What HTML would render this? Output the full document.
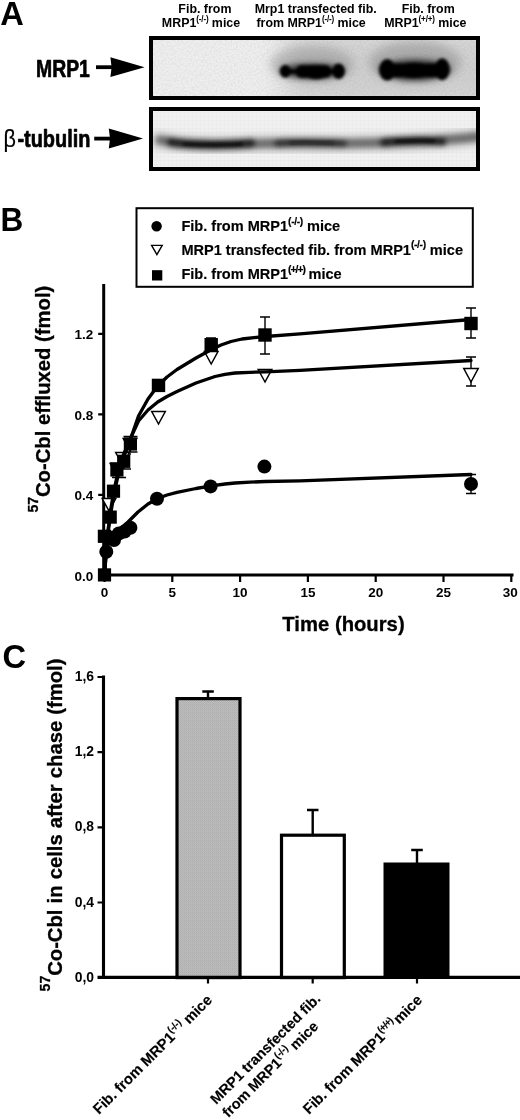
<!DOCTYPE html>
<html>
<head>
<meta charset="utf-8">
<title>Figure</title>
<style>
html,body{margin:0;padding:0;background:#fff;}
body{width:520px;height:1120px;overflow:hidden;}
svg{display:block;will-change:transform;}
svg text{font-family:"Liberation Sans",sans-serif;font-weight:bold;fill:#000;}
.pl{font-size:33px;}
.hd{font-size:13px;text-anchor:middle;}
.sp{font-size:8.5px;letter-spacing:-0.2px;}
.sq{font-size:10.3px;letter-spacing:-0.35px;}
.lg{font-size:14.55px;stroke:#000;stroke-width:0.15px;}
.tk{font-size:13.5px;}
.ax{font-size:20.25px;stroke:#000;stroke-width:0.3px;}
.rl{font-size:24px;stroke:#000;stroke-width:0.7px;stroke-linejoin:round;}
</style>
</head>
<body>
<svg width="520" height="1120" viewBox="0 0 520 1120">
<defs>
  <filter id="b1" x="-30%" y="-80%" width="160%" height="260%"><feGaussianBlur stdDeviation="1.4"/></filter>
  <filter id="b2" x="-30%" y="-150%" width="160%" height="400%"><feGaussianBlur stdDeviation="2.6"/></filter>
  <filter id="b4" x="-30%" y="-150%" width="160%" height="400%"><feGaussianBlur stdDeviation="2.8"/></filter>
  <filter id="nz" x="0" y="0" width="100%" height="100%"><feTurbulence type="fractalNoise" baseFrequency="0.55" numOctaves="2" seed="7" result="t"/><feColorMatrix type="matrix" values="0 0 0 0 0  0 0 0 0 0  0 0 0 0 0  1.6 0 0 0 -0.55"/></filter>
  <filter id="b5" x="-30%" y="-300%" width="160%" height="700%"><feGaussianBlur stdDeviation="1.7"/></filter>
  <filter id="b6" x="-30%" y="-50%" width="160%" height="200%"><feGaussianBlur stdDeviation="14"/></filter>
  <filter id="b3" x="-30%" y="-100%" width="160%" height="300%"><feGaussianBlur stdDeviation="5"/></filter>
  <pattern id="dots" width="2" height="2" patternUnits="userSpaceOnUse">
    <rect width="2" height="2" fill="#bdbdbd"/>
    <rect width="1" height="1" fill="#adadad"/>
    <rect x="1" y="1" width="1" height="1" fill="#b3b3b3"/>
  </pattern>
  <pattern id="grid" width="4" height="4" patternUnits="userSpaceOnUse">
    <rect width="4" height="4" fill="#f1f1f1"/>
    <rect width="4" height="1" fill="#ececec"/>
    <rect width="1" height="4" fill="#ececec"/>
  </pattern>
  <clipPath id="c1"><rect x="151" y="38" width="327" height="60"/></clipPath>
  <clipPath id="c2"><rect x="151" y="109" width="327" height="60"/></clipPath>
</defs>
<rect width="520" height="1120" fill="#fff"/>

<!-- ================= PANEL A ================= -->
<g id="panelA">
  <text class="pl" transform="translate(0.2 24.8) scale(0.99 1)">A</text>
  <text class="hd" transform="translate(204.9 13.1) scale(0.955 1)">Fib. from</text>
  <text class="hd" transform="translate(201 27.2) scale(0.955 1)">MRP1<tspan class="sp" dy="-5">(-/-)</tspan><tspan dy="5"> mice</tspan></text>
  <text class="hd" transform="translate(315.7 13.1) scale(0.955 1)">Mrp1 transfected fib.</text>
  <text class="hd" transform="translate(311.1 27.2) scale(0.955 1)">from MRP1<tspan class="sp" dy="-5">(-/-)</tspan><tspan dy="5"> mice</tspan></text>
  <text class="hd" transform="translate(428.2 13.1) scale(0.955 1)">Fib. from</text>
  <text class="hd" transform="translate(425.3 27.2) scale(0.955 1)">MRP1<tspan class="sp" dy="-5">(+/+)</tspan><tspan dy="5"> mice</tspan></text>

  <!-- blot 1 -->
  <rect x="151" y="38" width="327" height="60" fill="#efefef"/>
  <rect x="151" y="38" width="327" height="60" filter="url(#nz)" opacity="0.08"/>
  <g clip-path="url(#c1)">
    <g filter="url(#b6)" opacity="0.3">
      <rect x="285" y="30" width="230" height="80" fill="#8a8a8a"/>
    </g>
    <g filter="url(#b3)" opacity="0.42">
      <ellipse cx="312" cy="64" rx="42" ry="18" fill="#888"/>
      <ellipse cx="415" cy="62" rx="46" ry="21" fill="#808080"/>
      <ellipse cx="312" cy="69" rx="38" ry="10" fill="#666"/>
      <ellipse cx="415" cy="68" rx="42" ry="13" fill="#606060"/>
    </g>
    <g filter="url(#b2)" opacity="0.8">
      <ellipse cx="312" cy="71" rx="33" ry="8" fill="#333"/>
      <ellipse cx="415" cy="70" rx="36" ry="11" fill="#333"/>
    </g>
    <g filter="url(#b1)">
      <ellipse cx="285.3" cy="71.3" rx="5.3" ry="6.3" fill="#000"/>
      <rect x="286" y="69.2" width="53" height="4.6" fill="#000"/>
      <rect x="295.5" y="65.2" width="36" height="12.6" rx="6" fill="#000"/>
      <ellipse cx="316" cy="72.2" rx="12" ry="7" fill="#000"/>
      <ellipse cx="338.6" cy="71.2" rx="6.3" ry="7.7" fill="#000"/>
      <ellipse cx="387.2" cy="69.8" rx="8" ry="10.8" fill="#000"/>
      <rect x="390" y="63.6" width="50" height="13.6" rx="5" fill="#000"/>
      <ellipse cx="414" cy="70.4" rx="19" ry="7.8" fill="#000"/>
      <ellipse cx="442.2" cy="69.2" rx="7.4" ry="11" fill="#000"/>
    </g>
  </g>
  <rect x="151" y="38" width="327" height="60" fill="none" stroke="#000" stroke-width="4"/>

  <!-- blot 2 -->
  <rect x="151" y="109" width="327" height="60" fill="url(#grid)"/>
  <g clip-path="url(#c2)">
    <g filter="url(#b3)" opacity="0.6">
      <path d="M158 140 C175 143.5 190 145 215 145 C245 145 250 143.5 262 143.5 C290 143.5 330 144 352 143.5 C372 143 380 143 395 142.5 C420 141.5 445 141 480 136.5" stroke="#555" stroke-width="11" fill="none" stroke-linecap="round"/>
    </g>
    <g filter="url(#b4)">
      <path d="M160 140 C175 143 190 144.6 215 144.6 C245 144.6 250 143.5 262 143.5 C290 142.5 330 143 352 143.3 C372 143 380 142.5 395 142 C420 140.5 445 141 480 136.5" stroke="#6a6a6a" stroke-width="7" fill="none" stroke-linecap="round"/>
      <path d="M170 142 C185 144.4 200 144.7 215 144.7 C232 144.7 240 144.3 252 143.3" stroke="#1c1c1c" stroke-width="8" fill="none" stroke-linecap="round"/>
      <path d="M277 143.2 C292 142.3 320 142.6 344 143.4" stroke="#2a2a2a" stroke-width="7" fill="none" stroke-linecap="round"/>
      <path d="M383 142.4 C400 140.8 425 140.6 443 141.2" stroke="#1c1c1c" stroke-width="8" fill="none" stroke-linecap="round"/>
    </g>
    <g filter="url(#b5)" opacity="0.8">
      <path d="M184 144 C194 144.8 203 144.9 215 144.9 C228 144.9 236 144.5 242 144" stroke="#000" stroke-width="2.6" fill="none" stroke-linecap="round"/>
      <path d="M290 142.8 C300 142.5 322 142.7 334 143.1" stroke="#111" stroke-width="1.8" fill="none" stroke-linecap="round"/>
      <path d="M396 141.5 C407 140.8 425 140.6 434 141" stroke="#000" stroke-width="2.6" fill="none" stroke-linecap="round"/>
    </g>
  </g>
  <rect x="151" y="109" width="327" height="60" fill="none" stroke="#000" stroke-width="4"/>

  <!-- row labels -->
  <text class="rl" transform="translate(36 77.4) scale(0.808 1)">MRP1</text>
  <path d="M96 65.3 h17 v3.8 h-17 z" fill="#000"/>
  <path d="M110.4 57.3 L144.6 67.2 L110.4 77.1 L111.6 67.2 Z" fill="#000"/>

  <text class="rl" style="font-weight:normal;stroke-width:0.2px" transform="translate(3.6 146.6) scale(0.9 0.98)">β</text>
  <text class="rl" transform="translate(17.4 146.6) scale(0.83 0.975)">-tubulin</text>
  <path d="M94.2 136.7 h17 v3.8 h-17 z" fill="#000"/>
  <path d="M108.8 128.6 L143 138.6 L108.8 148.6 L110 138.6 Z" fill="#000"/>
</g>

<!-- ================= PANEL B ================= -->
<g id="panelB">
  <text class="pl" transform="translate(0.4 231.2) scale(0.955 1)">B</text>
  <!-- legend -->
  <rect x="136.5" y="208.2" width="336.3" height="78.6" fill="#fff" stroke="#000" stroke-width="2"/>
  <circle cx="156.6" cy="226.2" r="5.2" fill="#000"/>
  <path d="M151.6 245.4 L162.2 245.4 L156.9 254.6 Z" fill="#fff" stroke="#000" stroke-width="1.4"/>
  <rect x="152" y="270.2" width="10.3" height="10.3" fill="#000"/>
  <text class="lg" x="181.4" y="231">Fib. from MRP1<tspan class="sq" dy="-6.3">(-/-)</tspan><tspan dy="6.3"> mice</tspan></text>
  <text class="lg" x="181.4" y="254.6">MRP1 transfected fib. from MRP1<tspan class="sq" dy="-6.3">(-/-)</tspan><tspan dy="6.3"> mice</tspan></text>
  <text class="lg" x="181.4" y="279.4">Fib. from MRP1<tspan class="sq" style="letter-spacing:-0.95px" dy="-6.3">(+/+)</tspan><tspan dy="6.3" dx="-0.6"> mice</tspan></text>

  <!-- axes -->
  <path d="M103.7 284 V576.5" stroke="#000" stroke-width="3" fill="none"/>
  <path d="M98 575 H513.5" stroke="#000" stroke-width="2.8" fill="none"/>
  <g stroke="#000" stroke-width="2.2" fill="none">
    <path d="M98.2 333.9 H103 M98.2 414.4 H103 M98.2 494.9 H103"/>
    <path d="M104.5 575 V582 M172.3 575 V582 M240.1 575 V582 M307.9 575 V582 M375.7 575 V582 M443.5 575 V582 M511.3 575 V582"/>
  </g>
  <g class="tk" text-anchor="end">
    <text x="93.4" y="339">1.2</text>
    <text x="93.4" y="419.5">0.8</text>
    <text x="93.4" y="500">0.4</text>
    <text x="93.4" y="581">0.0</text>
  </g>
  <g class="tk" text-anchor="middle">
    <text x="104.5" y="597.2">0</text>
    <text x="172.3" y="597.2">5</text>
    <text x="240.1" y="597.2">10</text>
    <text x="307.9" y="597.2">15</text>
    <text x="375.7" y="597.2">20</text>
    <text x="443.5" y="597.2">25</text>
    <text x="510.2" y="597.2">30</text>
  </g>
  <text class="ax" x="343.5" y="631" text-anchor="middle">Time (hours)</text>
  <text class="ax" transform="translate(49.6 512.6) rotate(-90) scale(1 1.04)"><tspan font-size="14" dy="-11.6">57</tspan><tspan dy="11.6">Co-Cbl effluxed (fmol)</tspan></text>

  <!-- error bars -->
  <g stroke="#000" stroke-width="1.4" fill="none">
    <path d="M265 317 V354 M260 317 H270 M260 354 H270"/>
    <path d="M471 308 V338 M466 308 H476 M466 338 H476"/>
    <path d="M471 357 V386 M466 357 H476 M466 386 H476"/>
    <path d="M471 474.5 V493.5 M466 474.5 H476 M466 493.5 H476"/>
    <path d="M211 338 V351 M206 338 H216"/>
    <path d="M130.4 436.5 V452 M123.5 436.5 H137.5 M123.5 452 H137.5"/>
    <path d="M124 454 V469 M117 454 H131 M117 469 H131"/>
    <path d="M117 463 V477.5 M110 463 H124 M112 477.5 H126"/>
  </g>

  <!-- triangles -->
  <g fill="#fff" stroke="#000" stroke-width="1.5" stroke-linejoin="miter">
    <path d="M109 511 l-6.8 -12.5 h13.6 z"/>
    <path d="M117 476 l-6.8 -12.5 h13.6 z"/>
    <path d="M122.5 465 l-6.8 -12.5 h13.6 z"/>
    <path d="M130 451 l-6.8 -12.5 h13.6 z"/>
    <path d="M158.5 424 l-6.8 -12.5 h13.6 z"/>
    <path d="M211.2 364 l-6.8 -12.5 h13.6 z"/>
    <path d="M265 382 l-6.8 -12.5 h13.6 z"/>
    <path d="M471 382 l-7.2 -13.5 h14.4 z"/>
  </g>

  <!-- curves -->
  <g stroke="#000" stroke-width="3.3" fill="none" stroke-linecap="round" stroke-linejoin="round">
    <path id="cvS" d="M104.6 575 L106 555 L108 533 L111 512 L114 494 L118 476 L123 459 L128.8 444 L138.5 416 L148 399 L157.7 386 L167 377 L177 369.5 L196 358 L211.5 349.5 L221 345 L231 341.5 L242 339 L254 337.7 L265.4 336.5 L300 333.8 L471 319.5"/>
    <path id="cvT" d="M104.6 575 L106 553 L108 530 L111 508 L114 490 L118 472 L123 456 L128.8 442 L138.5 421 L148 410 L157.7 402 L167 396.5 L177 391.5 L196 383 L215 376.5 L225 374.3 L235 373 L250 372.3 L265.4 371.8 L300 370.4 L471 360.5"/>
    <path id="cvC" d="M104.6 575 L105.5 560 L107 548 L109 540 L112 535 L116 531.5 L121 528 L128 522 L138 512 L148 504 L157.7 498.5 L167 495 L177 492.3 L196 488.5 L211.5 485.8 L225 484 L235 483 L250 482.2 L265.4 481.5 L300 480.8 L471 474.5"/>
  </g>

  <!-- circles -->
  <g fill="#000">
    <circle cx="104.6" cy="575" r="6"/>
    <circle cx="106.3" cy="551.7" r="7"/>
    <circle cx="109.2" cy="537.3" r="7"/>
    <circle cx="114" cy="540" r="7"/>
    <circle cx="118.8" cy="533.5" r="7"/>
    <circle cx="124.6" cy="531.5" r="7"/>
    <circle cx="130.4" cy="527.7" r="7"/>
    <circle cx="157" cy="498.8" r="7"/>
    <circle cx="210.6" cy="486.4" r="7"/>
    <circle cx="264.4" cy="466.6" r="7"/>
    <circle cx="471" cy="484" r="7"/>
  </g>

  <!-- squares -->
  <g fill="#000">
    <rect x="97.9" y="568.3" width="13.2" height="13.2"/>
    <rect x="97.8" y="529.7" width="13.2" height="13.2"/>
    <rect x="103.6" y="510.5" width="13.2" height="13.2"/>
    <rect x="106.9" y="484.6" width="13.2" height="13.2"/>
    <rect x="110.3" y="463.4" width="13.2" height="13.2"/>
    <rect x="117.1" y="454.7" width="13.2" height="13.2"/>
    <rect x="123.8" y="437.4" width="13.2" height="13.2"/>
    <rect x="151.8" y="378.7" width="13.4" height="13.4"/>
    <rect x="204.5" y="338" width="13.4" height="13.4"/>
    <rect x="258.3" y="328.3" width="13.4" height="13.4"/>
    <rect x="464.3" y="316.8" width="13.4" height="13.4"/>
  </g>
</g>

<!-- ================= PANEL C ================= -->
<g id="panelC">
  <text class="pl" transform="translate(2.6 668.2) scale(0.99 1.01)">C</text>
  <!-- bars -->
  <rect x="177" y="698.6" width="63" height="279" fill="url(#dots)" stroke="#000" stroke-width="3.2"/>
  <rect x="281.5" y="835.2" width="62.8" height="142.4" fill="#fff" stroke="#000" stroke-width="3.2"/>
  <rect x="383.5" y="862.5" width="66" height="115" fill="#000"/>
  <g stroke="#000" stroke-width="2.4" fill="none">
    <path d="M208 698 V691 M202.3 691.5 H213.8"/>
    <path d="M312.7 835 V809.5 M307 810 H318.5"/>
    <path d="M417 863 V849.5 M411.2 850 H422.8"/>
  </g>
  <!-- axes -->
  <path d="M103.5 675.6 V979" stroke="#000" stroke-width="3.1" fill="none"/>
  <path d="M97.5 977.3 H520" stroke="#000" stroke-width="3.2" fill="none"/>
  <g stroke="#000" stroke-width="2.2" fill="none">
    <path d="M97.5 677 H103 M97.5 752.2 H103 M97.5 827.3 H103 M97.5 902.5 H103"/>
    <path d="M208 978 V983.5 M312.7 978 V983.5 M417 978 V983.5"/>
  </g>
  <g class="tk" style="font-size:13.9px" text-anchor="end">
    <text x="94" y="681">1,6</text>
    <text x="94" y="756.2">1,2</text>
    <text x="94" y="831.3">0,8</text>
    <text x="94" y="906.5">0,4</text>
    <text x="94" y="981.7">0,0</text>
  </g>
  <text class="ax" word-spacing="0.5" transform="translate(61.7 991.4) rotate(-90) scale(1 1.04)"><tspan font-size="14" dy="-11.6">57</tspan><tspan dy="11.6">Co-Cbl in cells after chase (fmol)</tspan></text>

  <!-- rotated x labels -->
  <text class="lg" style="font-size:14.8px" text-anchor="end" transform="translate(213 1001) rotate(-45)">Fib. from MRP1<tspan class="sq" dy="-6.3">(-/-)</tspan><tspan dy="6.3"> mice</tspan></text>
  <text class="lg" text-anchor="end" transform="translate(321.3 999.75) rotate(-45)">MRP1 transfected fib.</text>
  <text class="lg" text-anchor="end" transform="translate(319.3 1027.2) rotate(-45)">from MRP1<tspan class="sq" dy="-6.3">(-/-)</tspan><tspan dy="6.3"> mice</tspan></text>
  <text class="lg" style="font-size:14.8px" text-anchor="end" transform="translate(423 1001) rotate(-45)">Fib. from MRP1<tspan class="sq" style="letter-spacing:-0.95px" dy="-6.3">(+/+)</tspan><tspan dy="6.3" dx="-2.2"> mice</tspan></text>
</g>
</svg>
</body>
</html>
